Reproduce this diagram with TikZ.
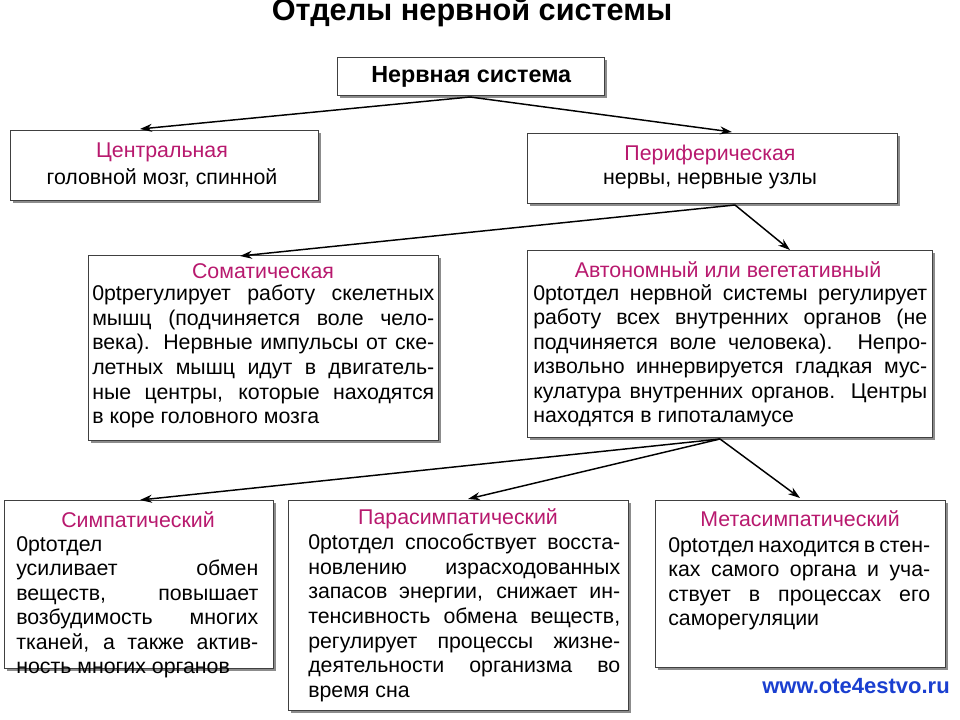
\documentclass[tikz,border=0pt]{standalone}
\usepackage{fontspec}
\setmainfont{Liberation Sans}
\usetikzlibrary{shadows,arrows.meta}
\definecolor{pinkt}{HTML}{B8196E}
\definecolor{wm}{HTML}{1A3FD0}
\newcommand\jl[1]{#1\linebreak\relax}
\tikzset{
  box/.style={draw=black!75, line width=1.1pt, fill=white, anchor=north west, inner sep=0pt,
    drop shadow={shadow xshift=1.5pt, shadow yshift=-1.5pt, fill=black!45, opacity=1}},
  ttl/.style={text=pinkt, font=\fontsize{16}{18}\selectfont, inner sep=0pt},
  one/.style={font=\fontsize{16}{18}\selectfont, inner sep=0pt},
  body/.style={font=\fontsize{16}{18.4}\selectfont\hyphenpenalty=10000\exhyphenpenalty=10000, align=justify, anchor=north west, inner sep=0pt},
  arr/.style={line width=1.1pt, -{Stealth[length=9pt,width=6pt]}},
}
\begin{document}
\begin{tikzpicture}[x=0.75pt,y=-0.75pt]
\clip (0,0) rectangle (960,720);
\fill[white] (0,0) rectangle (960,720);
\node[font=\bfseries\fontsize{23}{26}\selectfont] (title) at (472,12) {Отделы нервной системы};

\node[box, minimum width=267*0.75pt, minimum height=38*0.75pt] (ns) at (337,57) {};
\node[font=\bfseries\fontsize{17.5}{20}\selectfont] (nst) at (ns.center) {Нервная система};

\node[box, minimum width=308*0.75pt, minimum height=70*0.75pt] (c) at (10,130) {};
\node[ttl] (ct) at (162,152) {Центральная};
\node[one] (cb) at (162,178) {головной мозг, спинной};

\node[box, minimum width=370*0.75pt, minimum height=70*0.75pt] (p) at (527,133) {};
\node[ttl] (pt) at (710,155) {Периферическая};
\node[one] (pb) at (710,181) {нервы, нервные узлы};

\node[box, minimum width=350*0.75pt, minimum height=185*0.75pt] (s) at (88,255) {};
\node[ttl] (st) at (263,271) {Соматическая};
\node[body, text width=342*0.75pt] (sb) at (92,285) {\jl{регулирует работу скелетных}\jl{мышц (подчиняется воле чело-}\jl{века). Нервные импульсы от ске-}\jl{летных мышц идут в двигатель-}\jl{ные центры, которые находятся}в коре головного мозга};

\node[box, minimum width=405*0.75pt, minimum height=187*0.75pt] (a) at (527,250) {};
\node[ttl] (at) at (728,270) {Автономный или вегетативный};
\node[body, text width=394*0.75pt] (ab) at (533,284) {\jl{отдел нервной системы регулирует}\jl{работу всех внутренних органов (не}\jl{подчиняется воле человека). Непро-}\jl{извольно иннервируется гладкая мус-}\jl{кулатура внутренних органов. Центры}находятся в гипоталамусе};

\node[box, minimum width=269*0.75pt, minimum height=168*0.75pt] (sy) at (4,500) {};
\node[ttl] (syt) at (138,520) {Симпатический};
\node[body, text width=242*0.75pt] (syb) at (16,536) {\jl{отдел усиливает обмен}\jl{веществ, повышает}\jl{возбудимость многих}\jl{тканей, а также актив-}ность многих органов};

\node[box, minimum width=340*0.75pt, minimum height=210*0.75pt] (pa) at (288,500) {};
\node[ttl] (pat) at (458,519) {Парасимпатический};
\node[body, text width=312*0.75pt] (pab) at (308,534) {\jl{отдел способствует восста-}\jl{новлению израсходованных}\jl{запасов энергии, снижает ин-}\jl{тенсивность обмена веществ,}\jl{регулирует процессы жизне-}\jl{деятельности организма во}время сна};

\node[box, minimum width=290*0.75pt, minimum height=167*0.75pt] (me) at (655,500) {};
\node[ttl] (met) at (800,519) {Метасимпатический};
\node[body, text width=262*0.75pt] (meb) at (668,537) {\jl{отдел находится в стен-}\jl{ках самого органа и уча-}\jl{ствует в процессах его}саморегуляции};

\coordinate (o1) at (470,97);
\coordinate (o2) at (735,205);
\coordinate (o3) at (720,439);
\draw[arr] (o1) -- (140,129);
\draw[arr] (o1) -- (732,132);
\draw[arr] (o2) -- (240,256);
\draw[arr] (o2) -- (790,250);
\draw[arr] (o3) -- (140,500);
\draw[arr] (o3) -- (468,499);
\draw[arr] (o3) -- (800,498);

\node[text=wm, font=\bfseries\fontsize{16.5}{18}\selectfont] (w) at (856,686) {www.ote4estvo.ru};
\end{tikzpicture}
\end{document}
